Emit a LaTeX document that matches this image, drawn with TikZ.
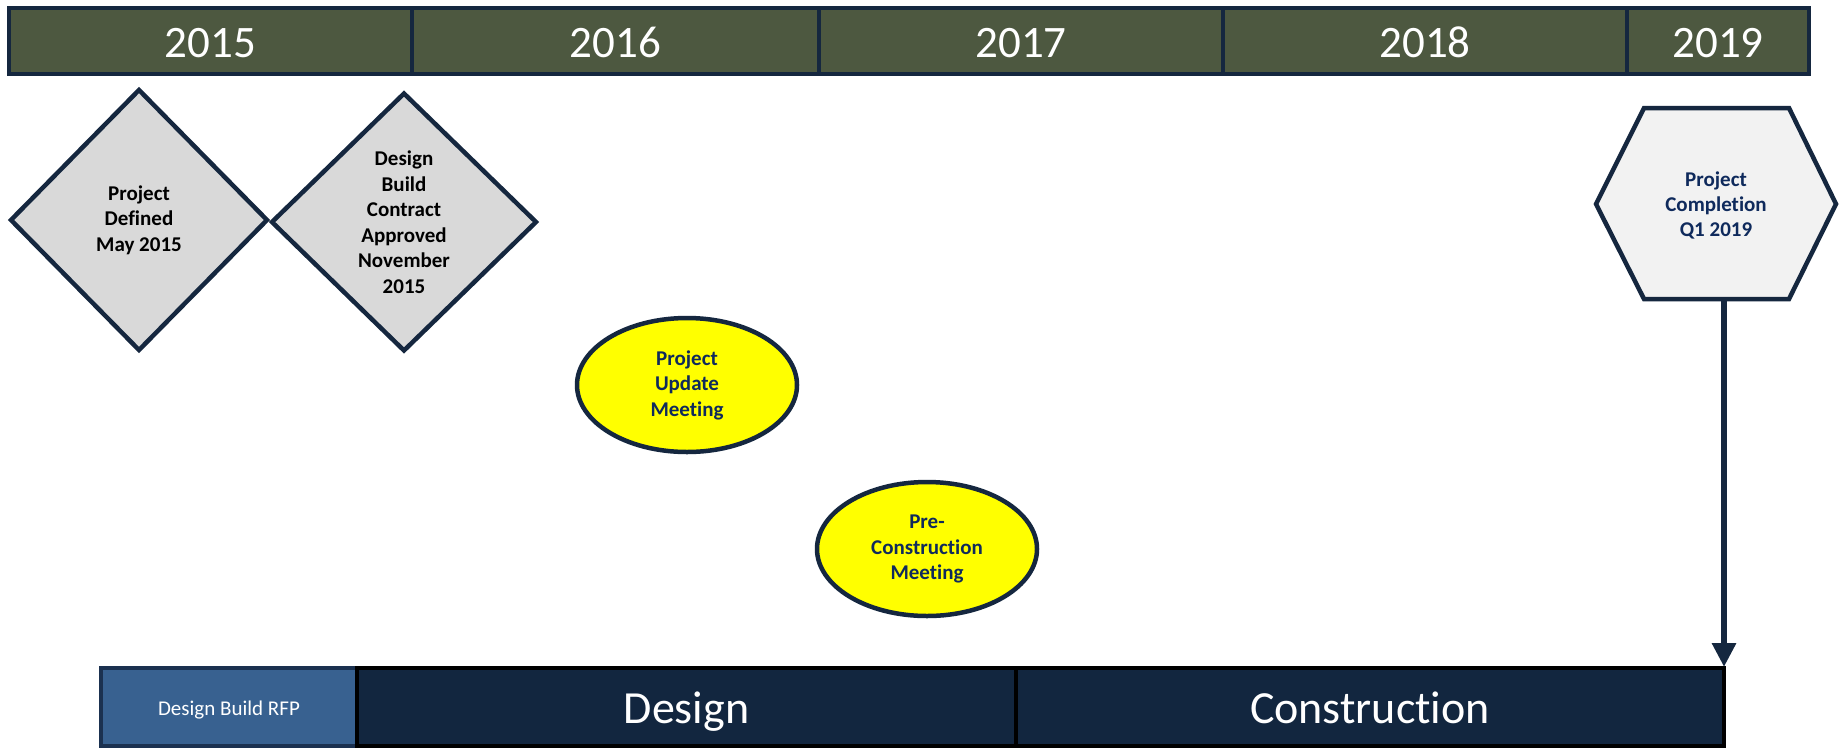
\documentclass[tikz,border=0pt]{standalone}
\usepackage{fontspec}
\setmainfont{Carlito}[Ligatures={NoCommon}]
\usetikzlibrary{shapes.geometric,arrows.meta}
\definecolor{navy}{HTML}{15273F}
\definecolor{olivebar}{HTML}{4D5840}
\definecolor{diamfill}{HTML}{D9D9D9}
\definecolor{hexfill}{HTML}{F2F2F2}
\definecolor{txtnavy}{HTML}{0F2A5C}
\definecolor{rfpfill}{HTML}{386190}
\definecolor{rfpborder}{HTML}{1B3150}
\definecolor{phasefill}{HTML}{12263F}
\definecolor{meetfill}{HTML}{FFFF00}
\begin{document}
\begin{tikzpicture}[x=1pt,y=-1pt,
  yearbox/.style={draw=navy, line width=4pt, fill=olivebar, text=white,
    inner sep=0pt, outer sep=0pt, minimum height=66pt,
    text height=34pt, text depth=2pt,
    font=\fontsize{45}{54}\selectfont},
  milestone/.style={shape=diamond, draw=navy, line width=4.5pt, fill=diamfill,
    inner sep=0pt, outer sep=0pt, minimum width=256pt, minimum height=260pt,
    align=center, text=black, font=\bfseries\fontsize{21}{25.5}\selectfont},
  meeting/.style={shape=ellipse, draw=navy, line width=4.5pt, fill=meetfill,
    inner sep=0pt, outer sep=0pt, minimum width=220pt, minimum height=134pt,
    align=center, text=txtnavy, font=\bfseries\fontsize{21}{25.5}\selectfont},
  phase/.style={draw=black, line width=4pt, fill=phasefill, text=white,
    inner sep=0pt, outer sep=0pt, minimum height=78pt,
    text height=36pt, text depth=4pt,
    font=\fontsize{46}{55}\selectfont},
  hexlabel/.style={align=center, text=txtnavy, inner sep=0pt,
    font=\bfseries\fontsize{21}{25}\selectfont}
]
\useasboundingbox (0,0) rectangle (1846,748);
\fill[white] (0,0) rectangle (1846,748);

% year bar
\node[yearbox, minimum width=403pt] (y2015) at (210.5,41) {2015};
\node[yearbox, minimum width=407pt] (y2016) at (615.5,41) {2016};
\node[yearbox, minimum width=404pt] (y2017) at (1021,41) {2017};
\node[yearbox, minimum width=404pt] (y2018) at (1425,41) {2018};
\node[yearbox, minimum width=182pt] (y2019) at (1718,41) {2019};

% milestones
\node[milestone] (m1) at (139,220) {Project\\Defined\\May 2015};
\node[milestone, minimum width=264pt, minimum height=257pt] (m2) at (404,222)
  {Design\\Build\\Contract\\Approved\\November\\2015};

% meetings
\node[meeting] (e1) at (687,385) {Project\\Update\\Meeting};
\node[meeting] (e2) at (927,549) {Pre-\\Construction\\Meeting};

% completion hexagon
\draw[navy, line width=4.5pt, fill=hexfill, line join=miter]
  (1596,204) -- (1644,108) -- (1789,108) -- (1836,204) -- (1789,299) -- (1644,299) -- cycle;
\node[hexlabel] (hex) at (1716,205) {Project\\Completion\\Q1 2019};
\coordinate (hexbot) at (1724,299);

% phases
\node[phase, draw=rfpborder, fill=rfpfill, minimum width=256pt,
  text height=17pt, text depth=1pt,
  font=\fontsize{21}{25}\selectfont] (rfp) at (229,707) {Design Build RFP};
\node[phase, minimum width=659pt] (design) at (686.5,707) {Design};
\node[phase, minimum width=708pt] (constr) at (1370,707) {Construction};
\coordinate (barend) at (1724,667);

% connector
\draw[navy, line width=6pt, -{Triangle[width=23pt,length=24pt]}] (hexbot) -- (barend);
\end{tikzpicture}
\end{document}
